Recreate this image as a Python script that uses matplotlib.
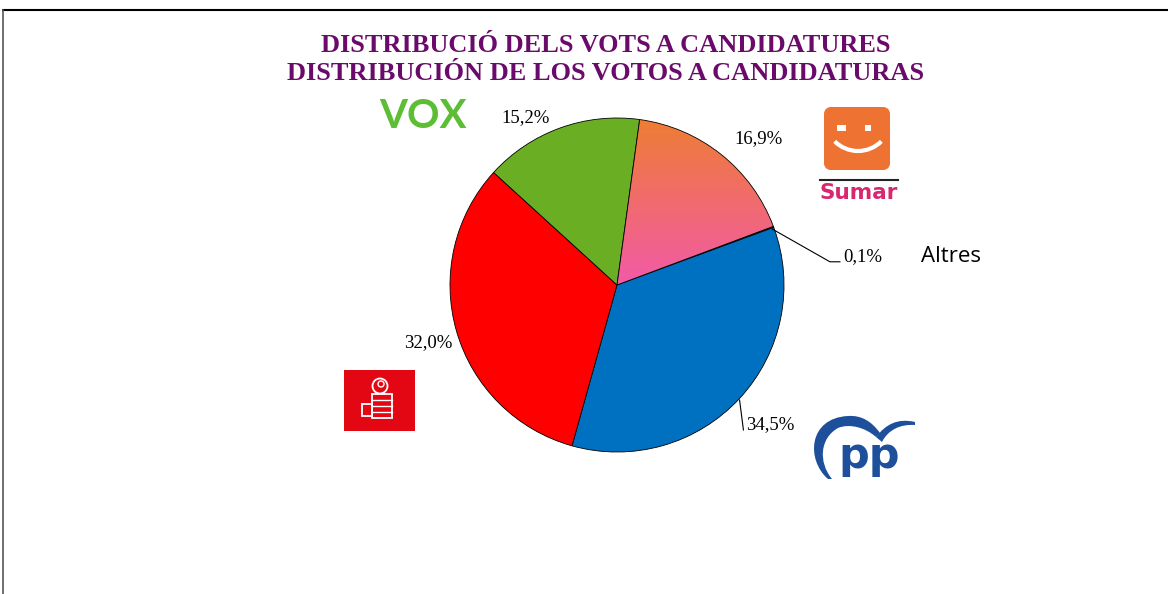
import matplotlib
matplotlib.use('Agg')
import matplotlib.pyplot as plt
import numpy as np
from matplotlib.patches import Rectangle, FancyBboxPatch, Arc, Circle, PathPatch
from matplotlib.path import Path
from matplotlib.colors import LinearSegmentedColormap

# dades (ordre del pastís, en sentit horari des de dalt)
partits = ['Sumar', 'Altres', 'PP', 'PSOE', 'VOX']
vots = [16.9, 0.1, 34.5, 32.0, 15.2]
etiquetes = ['16,9%', '0,1%', '34,5%', '32,0%', '15,2%']
colors = ['#EE7D3A', '#C55A11', '#0070C0', '#FF0000', '#6AAF23']

titol1 = 'DISTRIBUCIÓ DELS VOTS A CANDIDATURES'
titol2 = 'DISTRIBUCIÓN DE LOS VOTOS A CANDIDATURAS'

W, H = 1168, 594
fig = plt.figure(figsize=(W / 100, H / 100), dpi=100)

# capa de fons en pixels per als logos i la vora
bg = fig.add_axes([0, 0, 1, 1])
bg.set_xlim(0, W)
bg.set_ylim(H, 0)
bg.axis('off')

# vora
bg.plot([3, W], [10, 10], color='black', lw=1.5)
bg.plot([3, 3], [10, H], color='#555555', lw=1.2)

# titol
purpura = '#6A0A6A'
fig.text(606 / W, 1 - 46 / H, titol1, ha='center', va='center', color=purpura,
         fontsize=19, fontweight='bold', family='Liberation Serif')
fig.text(606 / W, 1 - 74 / H, titol2, ha='center', va='center', color=purpura,
         fontsize=19, fontweight='bold', family='Liberation Serif')

# pastis
cx, cy, r = 617, 285, 167
ax = fig.add_axes([(cx - r) / W, (H - cy - r) / H, 2 * r / W, 2 * r / H])
wedges, _ = ax.pie(vots, colors=colors, startangle=82.2, counterclock=False,
                   radius=1, wedgeprops=dict(edgecolor='black', linewidth=0.6))
ax.set_xlim(-1, 1)
ax.set_ylim(-1, 1)
ax.set_aspect('equal')
ax.axis('off')

# degradat de Sumar (taronja a dalt, rosa a baix)
grad = np.linspace(0, 1, 256).reshape(-1, 1)
cm_sumar = LinearSegmentedColormap.from_list('sumar', ['#F35AA8', '#EE7D33'])
im = ax.imshow(grad, extent=[0, 1, 0, 1], origin='lower', cmap=cm_sumar,
               aspect='auto', zorder=wedges[0].get_zorder() + 0.1)
im.set_clip_path(wedges[0])
wedges[0].set_zorder(im.get_zorder() + 0.1)
wedges[0].set_facecolor('none')

# etiquetes
pos = [(0.85, 0.874), (1.473, 0.168), (0.916, -0.838), (-1.132, -0.347), (-0.545, 1.0)]
for (x, y), t in zip(pos, etiquetes):
    ax.text(x, y, t, ha='center', va='center', fontsize=13.5, family='Liberation Serif')

# linies guia
ax.plot([0.93, 1.275, 1.335], [0.335, 0.139, 0.139], color='black', lw=0.8, clip_on=False)
ax.plot([0.734, 0.757], [-0.689, -0.868], color='black', lw=0.8, clip_on=False)

ax.text(2.0, 0.168, 'Altres', ha='center', va='center', fontsize=16, family='Open Sans')

# logo VOX
bg.text(423, 116, 'VOX', ha='center', va='center', fontsize=29, fontweight='bold',
        color='#5DBE35', family='Lato')

# logo Sumar
caixa = FancyBboxPatch((824, 107), 66, 63, boxstyle='round,pad=0,rounding_size=8',
                       facecolor='#EE7232', edgecolor='none')
bg.add_patch(caixa)
cm_s = LinearSegmentedColormap.from_list('s', ['#F28F3E', '#E35B22'])
ims = bg.imshow(grad, extent=[824, 890, 107, 170], origin='lower', cmap=cm_s, aspect='auto')
ims.set_clip_path(caixa)
bg.add_patch(Rectangle((837, 125), 9, 6, facecolor='white', edgecolor='none'))
bg.add_patch(Rectangle((865, 125), 6, 6, facecolor='white', edgecolor='none'))
bg.add_patch(Arc((858, 118), 66, 66, theta1=45, theta2=135, color='white', lw=3))
bg.plot([820, 898], [180, 180], color='#222222', lw=1.5)
bg.text(859, 193, 'Sumar', ha='center', va='center', fontsize=15.5, fontweight='bold',
        color='#D8276E', family='DejaVu Sans')

# logo PSOE
bg.add_patch(Rectangle((344, 370), 71, 61, facecolor='#E30613', edgecolor='none'))
bg.add_patch(Circle((380, 386), 7.5, facecolor='none', edgecolor='white', lw=1.3))
bg.add_patch(Circle((381, 384), 3, facecolor='none', edgecolor='white', lw=1))
bg.add_patch(Rectangle((372, 394), 20, 24, facecolor='none', edgecolor='white', lw=1.3))
for yy in [400, 406, 412]:
    bg.plot([372, 392], [yy, yy], color='white', lw=1)
bg.add_patch(Rectangle((362, 404), 10, 12, facecolor='none', edgecolor='white', lw=1.3))

# logo PP
azul = '#1E4F9A'
M, C4, L, CL = Path.MOVETO, Path.CURVE4, Path.LINETO, Path.CLOSEPOLY
creixent = Path([(828, 479), (806, 460), (808, 418), (848, 416),
                 (862, 415), (872, 422), (880, 433),
                 (876, 437), (866, 428), (850, 423), (838, 428),
                 (820, 438), (818, 462), (832, 479), (828, 479)],
                [M, C4, C4, C4, C4, C4, C4, L, C4, C4, C4, C4, C4, C4, CL])
bg.add_patch(PathPatch(creixent, facecolor=azul, edgecolor='none'))
ala = Path([(876, 437), (886, 424), (898, 418), (915, 422),
            (915, 425), (900, 424), (888, 430), (882, 442), (876, 437)],
           [M, C4, C4, C4, L, C4, C4, C4, CL])
bg.add_patch(PathPatch(ala, facecolor=azul, edgecolor='none'))
bg.text(869, 456, 'pp', ha='center', va='center', fontsize=31, fontweight='bold',
        color=azul, family='DejaVu Sans')

fig.savefig('out.png', dpi=100)
